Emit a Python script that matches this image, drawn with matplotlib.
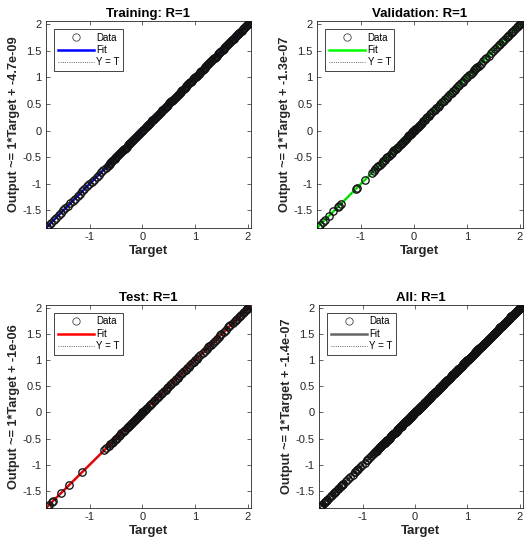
import matplotlib
matplotlib.use("Agg")
import matplotlib.pyplot as plt
import numpy as np

plt.rcParams['font.family'] = ['Liberation Sans', 'DejaVu Sans']

# targets of each data split (network outputs match them, R=1)
train_target = [
    -1.81, -1.77, -1.73, -1.68, -1.64, -1.59, -1.55, -1.50, -1.46, -1.41,
    -1.37, -1.32, -1.28, -1.23, -1.19, -1.14, -1.10, -1.05, -1.01, -0.96,
    -0.92, -0.87, -0.83, -0.78, -0.74, -0.70, -0.66,
    -0.64, -0.62, -0.61, -0.59, -0.57, -0.55, -0.53, -0.52, -0.50, -0.48,
    -0.46, -0.44, -0.43, -0.41, -0.39, -0.37, -0.35, -0.34, -0.32, -0.30,
    -0.28, -0.26, -0.25, -0.23, -0.21, -0.19, -0.17, -0.16, -0.14, -0.12,
    -0.10, -0.08, -0.07, -0.05, -0.03, -0.01, 0.01, 0.02, 0.04, 0.06,
    0.08, 0.10, 0.11, 0.13, 0.15, 0.17, 0.19, 0.20, 0.22, 0.24,
    0.26, 0.28, 0.29, 0.31, 0.33, 0.35, 0.37, 0.38, 0.40, 0.42,
    0.44, 0.46, 0.47, 0.49, 0.51, 0.53, 0.55, 0.56, 0.58, 0.60,
    0.62, 0.64, 0.65, 0.67, 0.69, 0.71, 0.73, 0.74, 0.76, 0.78,
    0.80, 0.82, 0.83, 0.85, 0.87, 0.89, 0.91, 0.92, 0.94, 0.96,
    0.98, 1.00, 1.01, 1.03, 1.05, 1.07, 1.09, 1.10, 1.12, 1.14,
    1.16, 1.18, 1.19, 1.21, 1.23, 1.25, 1.27, 1.28, 1.30, 1.32,
    1.34, 1.36, 1.37, 1.39, 1.41, 1.43, 1.45, 1.46, 1.48, 1.50,
    1.52, 1.54, 1.55, 1.57, 1.59, 1.61, 1.63, 1.64, 1.66, 1.68,
    1.70, 1.72, 1.73, 1.75, 1.77, 1.79, 1.81, 1.82, 1.84, 1.86,
    1.88, 1.90, 1.91, 1.93, 1.95, 1.97, 1.99, 2.00, 2.02, 2.04, 2.06,
]
val_target = [
    -1.82, -1.77, -1.72, -1.68, -1.60, -1.52, -1.44, -1.41, -1.38, -1.10,
    -1.08, -0.92, -0.80, -0.76, -0.73, -0.69, -0.67, -0.64, -0.61,
    -0.58, -0.55, -0.52, -0.50, -0.47, -0.44, -0.42, -0.39, -0.37, -0.34,
    -0.32, -0.30, -0.27, -0.25, -0.23, -0.21, -0.19, -0.17, -0.15, -0.13,
    -0.11, -0.09, -0.08, -0.06, -0.04, -0.03, -0.01, 0.00, 0.02, 0.03,
    0.05, 0.07, 0.09, 0.11, 0.13, 0.15, 0.18, 0.20, 0.23, 0.25,
    0.28, 0.31, 0.33, 0.36, 0.39, 0.42, 0.45, 0.47, 0.50, 0.53,
    0.56, 0.59, 0.62, 0.65, 0.68, 0.71, 0.74, 0.77, 0.80, 0.83,
    0.86, 0.89, 0.92, 0.95, 0.98, 1.01, 1.04, 1.07, 1.11, 1.13,
    1.15, 1.17, 1.19, 1.22, 1.26, 1.30, 1.34, 1.37, 1.41, 1.45,
    1.50, 1.53, 1.57, 1.60, 1.62, 1.66, 1.69, 1.72, 1.76, 1.78,
    1.80, 1.84, 1.86, 1.88, 1.91, 1.94, 1.97, 1.99, 2.00, 2.03, 2.06,
]
test_target = [
    -1.81, -1.78, -1.71, -1.69, -1.54, -1.39, -1.15, -0.72, -0.69, -0.64,
    -0.61, -0.58, -0.56, -0.53, -0.50, -0.48, -0.45, -0.43, -0.40, -0.37,
    -0.35, -0.33, -0.30, -0.28, -0.26, -0.24, -0.22, -0.20, -0.18, -0.16,
    -0.14, -0.12, -0.10, -0.08, -0.07, -0.05, -0.03, -0.02, 0.00, 0.01,
    0.03, 0.05, 0.07, 0.09, 0.12, 0.14, 0.17, 0.19, 0.22, 0.24,
    0.27, 0.30, 0.32, 0.35, 0.38, 0.41, 0.44, 0.46, 0.49, 0.52,
    0.55, 0.58, 0.61, 0.64, 0.67, 0.70, 0.73, 0.76, 0.79, 0.82,
    0.85, 0.88, 0.91, 0.94, 0.97, 1.00, 1.03, 1.06, 1.10, 1.14,
    1.18, 1.22, 1.25, 1.27, 1.30, 1.33, 1.37, 1.41, 1.45, 1.48,
    1.50, 1.54, 1.58, 1.63, 1.65, 1.67, 1.71, 1.75, 1.77, 1.79,
    1.83, 1.85, 1.87, 1.90, 1.93, 1.96, 1.98, 1.99, 2.02, 2.04, 2.05,
]
all_target = train_target + val_target + test_target

# network outputs
train_output = list(train_target)
val_output = list(val_target)
test_output = list(test_target)
all_output = train_output + val_output + test_output

names = ["Training", "Validation", "Test", "All"]
r_values = [1, 1, 1, 1]
fit_slope = [1, 1, 1, 1]
fit_offset = [-4.7e-09, -1.3e-07, -1e-06, -1.4e-07]
fit_colors = ["#0000ff", "#00ff00", "#ff0000", "#666666"]

targets = [train_target, val_target, test_target, all_target]
outputs = [train_output, val_output, test_output, all_output]

lim = [-1.83, 2.06]
positions = [
    [0.0876, 0.5855, 0.3905, 0.3764],
    [0.6038, 0.5855, 0.3924, 0.3764],
    [0.0876, 0.0764, 0.3905, 0.3691],
    [0.6076, 0.0764, 0.3886, 0.3691],
]
dark = "#262626"

fig = plt.figure(figsize=(5.25, 5.5), dpi=100)

for i in range(4):
    ax = fig.add_axes(positions[i])
    t = np.array(targets[i])
    y = np.array(outputs[i])
    xs = np.array(lim)

    ax.plot(xs, fit_slope[i] * xs + fit_offset[i], color=fit_colors[i],
            lw=1.8, label="Fit", zorder=2)
    ax.plot(xs, xs, ls=":", color="#333333", lw=0.6, label="Y = T", zorder=3)
    ax.plot(t, y, ls="none", marker="o", markersize=5.3, mfc="none",
            mec="#111111", mew=0.95, label="Data", zorder=4)

    ax.set_xlim(lim)
    ax.set_ylim(lim)
    ax.set_xticks([-1, 0, 1, 2])
    ax.set_yticks([-1.5, -1, -0.5, 0, 0.5, 1, 1.5, 2])
    ax.set_yticklabels(["-1.5", "-1", "-0.5", "0", "0.5", "1", "1.5", "2"])
    ax.set_xticklabels(["-1", "0", "1", "2"])
    ax.tick_params(direction="in", top=True, right=True, length=3,
                   width=0.5, labelsize=8, colors=dark, pad=3)
    for s in ax.spines.values():
        s.set_linewidth(0.6)
        s.set_color(dark)

    ax.set_title("%s: R=%g" % (names[i], r_values[i]), fontsize=9.5,
                 fontweight="bold", pad=3)
    ax.set_xlabel("Target", fontsize=9.5, fontweight="bold", color=dark,
                  labelpad=2)
    ax.set_ylabel("Output ~= %g*Target + %.2g" % (fit_slope[i], fit_offset[i]),
                  fontsize=9.2, fontweight="bold", color=dark, labelpad=2)

    h, l = ax.get_legend_handles_labels()
    order = [2, 0, 1]
    leg = ax.legend([h[k] for k in order], [l[k] for k in order],
                    loc="upper left", bbox_to_anchor=(0.04, 0.96),
                    fontsize=7, handlelength=3.7, handletextpad=0.3,
                    labelspacing=0.25, borderpad=0.35, borderaxespad=0,
                    fancybox=False, framealpha=1, numpoints=1)
    leg.get_frame().set_edgecolor(dark)
    leg.get_frame().set_linewidth(0.6)
    leg.legend_handles[0].set_markeredgewidth(0.6)
    leg.legend_handles[0].set_markeredgecolor("#444444")

fig.savefig("out.png", dpi=100)
